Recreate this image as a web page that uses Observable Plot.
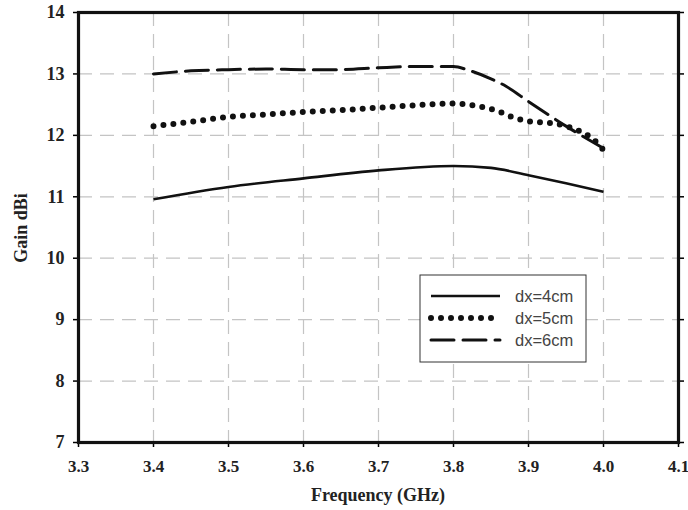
<!DOCTYPE html>
<html>
<head>
<meta charset="utf-8">
<script src="https://cdn.jsdelivr.net/npm/d3@7"></script>
<script src="https://cdn.jsdelivr.net/npm/@observablehq/plot@0.6"></script>
<style>
  html, body { margin: 0; padding: 0; background: #fff; }
  #chart { width: 688px; height: 510px; }
</style>
</head>
<body>
<div id="chart"></div>
<script>
// Series: dx = 4 cm (solid)
const freq4 = [3.4, 3.5, 3.6, 3.7, 3.8, 3.85, 3.9, 3.95, 4.0];
const gain4 = [10.96, 11.16, 11.3, 11.43, 11.5, 11.47, 11.35, 11.22, 11.08];
// Series: dx = 5 cm (dotted)
const freq5 = [3.4, 3.45, 3.5, 3.55, 3.6, 3.65, 3.7, 3.75, 3.8, 3.83, 3.86, 3.88, 3.9, 3.93, 3.95, 3.97, 3.985, 4.0];
const gain5 = [12.15, 12.22, 12.3, 12.34, 12.38, 12.41, 12.45, 12.49, 12.52, 12.48, 12.39, 12.29, 12.23, 12.2, 12.15, 12.06, 11.95, 11.76];
// Series: dx = 6 cm (dashed)
const freq6 = [3.4, 3.45, 3.5, 3.55, 3.6, 3.65, 3.7, 3.75, 3.8, 3.82, 3.85, 3.87, 3.9, 3.95, 4.0];
const gain6 = [13.0, 13.05, 13.07, 13.08, 13.07, 13.07, 13.1, 13.12, 13.12, 13.06, 12.92, 12.8, 12.55, 12.15, 11.79];

const seriesNames = ["dx=4cm", "dx=5cm", "dx=6cm"];
const xTicks = [3.3, 3.4, 3.5, 3.6, 3.7, 3.8, 3.9, 4.0, 4.1];
const yTicks = [7, 8, 9, 10, 11, 12, 13, 14];
const xLabel = "Frequency (GHz)";
const yLabel = "Gain dBi";

const toRows = (fs, gs, name) => fs.map((f, i) => ({f, g: gs[i], name}));
const d4 = toRows(freq4, gain4, seriesNames[0]);
const d5 = toRows(freq5, gain5, seriesNames[1]);
const d6 = toRows(freq6, gain6, seriesNames[2]);

const styles = {
  "dx=4cm": {strokeWidth: 2.6, strokeDasharray: null, strokeLinecap: "butt"},
  "dx=5cm": {strokeWidth: 6, strokeDasharray: "0 10", strokeLinecap: "round"},
  "dx=6cm": {strokeWidth: 3, strokeDasharray: "23 9", strokeLinecap: "round"}
};

const serif = "'Liberation Serif', 'Times New Roman', serif";

const plot = Plot.plot({
  width: 688,
  height: 510,
  marginLeft: 78,
  marginRight: 10,
  marginTop: 12,
  marginBottom: 68,
  style: {fontFamily: serif, background: "#fff", overflow: "visible"},
  x: {domain: [3.3, 4.1], ticks: xTicks},
  y: {domain: [7, 14], ticks: yTicks},
  marks: [
    Plot.gridX(xTicks.slice(1, -1), {stroke: "#c4c4c4", strokeOpacity: 1, strokeWidth: 1.2, strokeDasharray: "14 8"}),
    Plot.gridY(yTicks.slice(1, -1), {stroke: "#c4c4c4", strokeOpacity: 1, strokeWidth: 1.2, strokeDasharray: "14 8"}),
    Plot.axisX({ticks: xTicks, tickFormat: d => d.toFixed(1), tickSize: 5, tickPadding: 12,
      fontSize: 17, fontWeight: "bold", label: null, strokeWidth: 1.5, fill: "#222"}),
    Plot.axisY({ticks: yTicks, tickFormat: d => String(d), tickSize: 5, tickPadding: 9,
      fontSize: 18, fontWeight: "bold", label: null, strokeWidth: 1.5, fill: "#222"}),
    Plot.axisY({anchor: "right", ticks: yTicks, tickFormat: () => "", tickSize: 5, label: null, strokeWidth: 1.5}),
    Plot.line(d4, {x: "f", y: "g", stroke: "#111", curve: "monotone-x", ...styles["dx=4cm"]}),
    Plot.line(d5, {x: "f", y: "g", stroke: "#111", curve: "monotone-x", ...styles["dx=5cm"]}),
    Plot.line(d6, {x: "f", y: "g", stroke: "#111", curve: "monotone-x", ...styles["dx=6cm"]}),
    Plot.frame({stroke: "#111", strokeWidth: 3.2})
  ]
});

const svg = d3.select(plot);
// axis titles
svg.append("text")
  .attr("x", 378).attr("y", 501)
  .attr("text-anchor", "middle")
  .attr("font-family", serif).attr("font-size", 18).attr("font-weight", "bold")
  .attr("fill", "#222")
  .text(xLabel);
svg.append("text")
  .attr("transform", "translate(27,228) rotate(-90)")
  .attr("text-anchor", "middle")
  .attr("font-family", serif).attr("font-size", 18).attr("font-weight", "bold")
  .attr("fill", "#222")
  .text(yLabel);

// legend box
const lg = svg.append("g").attr("transform", "translate(420,275)");
lg.append("rect").attr("x", 0).attr("y", 0).attr("width", 166).attr("height", 87)
  .attr("fill", "#fff").attr("stroke", "#333").attr("stroke-width", 1);
seriesNames.forEach((name, i) => {
  const y = 21 + i * 22;
  const s = styles[name];
  lg.append("line").attr("x1", 11).attr("x2", 80).attr("y1", y).attr("y2", y)
    .attr("stroke", "#111").attr("stroke-width", s.strokeWidth)
    .attr("stroke-dasharray", s.strokeDasharray)
    .attr("stroke-linecap", s.strokeLinecap);
  lg.append("text").attr("x", 95).attr("y", y).attr("dy", "0.35em")
    .attr("text-anchor", "start")
    .attr("font-family", "'Liberation Sans', Arial, sans-serif").attr("font-size", 16.5)
    .attr("fill", "#444")
    .text(name);
});

document.getElementById("chart").appendChild(plot);
</script>
</body>
</html>
